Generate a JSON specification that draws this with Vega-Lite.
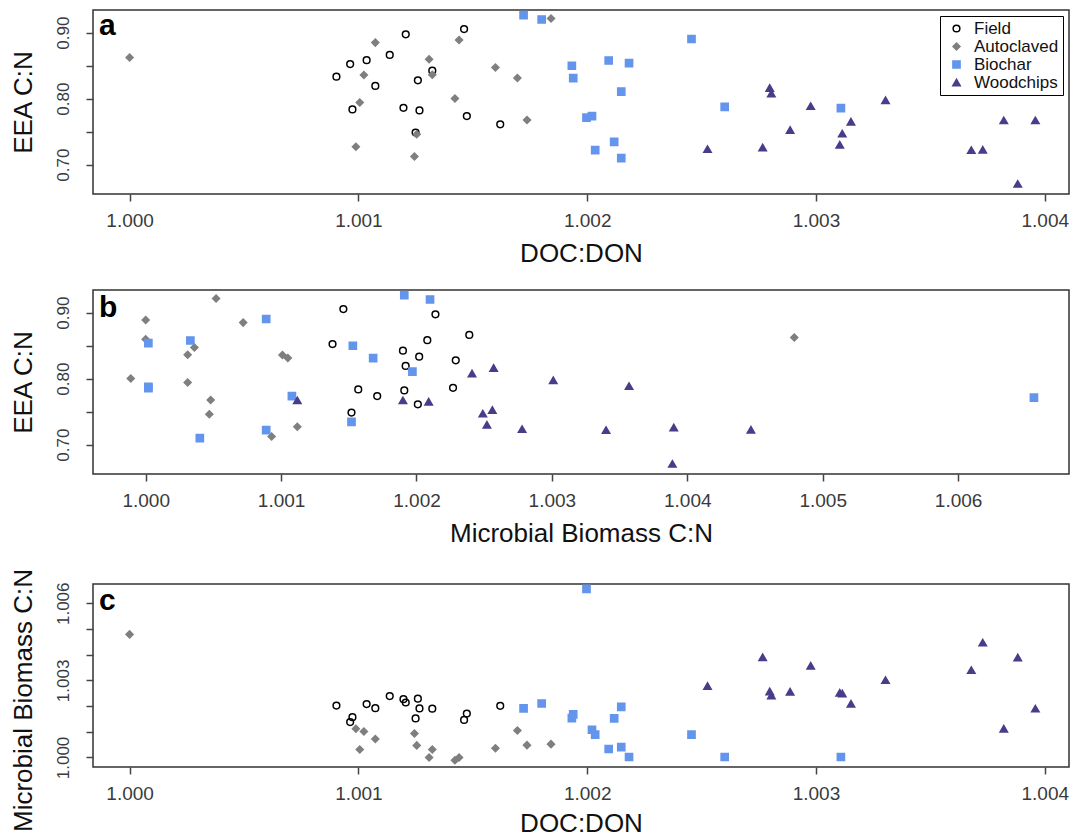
{
  "$schema": "https://vega.github.io/schema/vega-lite/v6.json",
  "padding": {"left": 9, "top": 7, "right": 5, "bottom": 0},
  "background": "white",
  "config": {
    "font": "Liberation Sans",
    "view": {"stroke": "#333333", "strokeWidth": 1.5},
    "axis": {
      "grid": false,
      "domain": false,
      "ticks": true,
      "tickSize": 7,
      "tickColor": "#444444",
      "tickWidth": 1.5,
      "labelFont": "Liberation Sans",
      "labelColor": "#3a3a3a",
      "labelOverlap": false,
      "labelFlush": false,
      "titleFont": "Liberation Sans",
      "titleFontSize": 26,
      "titleFontWeight": "normal",
      "titleColor": "#111111"
    },
    "axisX": {"labelPadding": 10, "titlePadding": 10, "labelFontSize": 19},
    "axisY": {"labelAngle": -90, "labelPadding": 14, "titlePadding": 18, "labelFontSize": 17}
  },
  "datasets": {
    "pts": [
      {"g": "Field", "doc": 1.000904, "eea": 0.8333, "mb": 1.00202},
      {"g": "Field", "doc": 1.000964, "eea": 0.8524, "mb": 1.00138},
      {"g": "Field", "doc": 1.000974, "eea": 0.7837, "mb": 1.00157},
      {"g": "Field", "doc": 1.001036, "eea": 0.8584, "mb": 1.00208},
      {"g": "Field", "doc": 1.001074, "eea": 0.8193, "mb": 1.00192},
      {"g": "Field", "doc": 1.001137, "eea": 0.8664, "mb": 1.00239},
      {"g": "Field", "doc": 1.001197, "eea": 0.7862, "mb": 1.00227},
      {"g": "Field", "doc": 1.001207, "eea": 0.8975, "mb": 1.00214},
      {"g": "Field", "doc": 1.00126, "eea": 0.8278, "mb": 1.00229},
      {"g": "Field", "doc": 1.001267, "eea": 0.7822, "mb": 1.00191},
      {"g": "Field", "doc": 1.00125, "eea": 0.7486, "mb": 1.00152},
      {"g": "Field", "doc": 1.001323, "eea": 0.8424, "mb": 1.0019},
      {"g": "Field", "doc": 1.001462, "eea": 0.9055, "mb": 1.00146},
      {"g": "Field", "doc": 1.001474, "eea": 0.7737, "mb": 1.00171},
      {"g": "Field", "doc": 1.00162, "eea": 0.7612, "mb": 1.00201},
      {"g": "Autoclaved", "doc": 1.0, "eea": 0.8624, "mb": 1.00479},
      {"g": "Autoclaved", "doc": 1.001074, "eea": 0.885, "mb": 1.00072},
      {"g": "Autoclaved", "doc": 1.001024, "eea": 0.8358, "mb": 1.00101},
      {"g": "Autoclaved", "doc": 1.001006, "eea": 0.7942, "mb": 1.00031},
      {"g": "Autoclaved", "doc": 1.000989, "eea": 0.7271, "mb": 1.00112},
      {"g": "Autoclaved", "doc": 1.001309, "eea": 0.8599, "mb": 1.0},
      {"g": "Autoclaved", "doc": 1.001323, "eea": 0.8363, "mb": 1.00031},
      {"g": "Autoclaved", "doc": 1.001255, "eea": 0.7461, "mb": 1.00047},
      {"g": "Autoclaved", "doc": 1.001245, "eea": 0.7125, "mb": 1.00093},
      {"g": "Autoclaved", "doc": 1.00144, "eea": 0.889, "mb": 1.0},
      {"g": "Autoclaved", "doc": 1.001422, "eea": 0.8003, "mb": 0.99989},
      {"g": "Autoclaved", "doc": 1.001599, "eea": 0.8474, "mb": 1.00036},
      {"g": "Autoclaved", "doc": 1.001695, "eea": 0.8313, "mb": 1.00105},
      {"g": "Autoclaved", "doc": 1.001737, "eea": 0.7677, "mb": 1.00048},
      {"g": "Autoclaved", "doc": 1.001842, "eea": 0.9216, "mb": 1.00052},
      {"g": "Biochar", "doc": 1.001722, "eea": 0.9266, "mb": 1.00191},
      {"g": "Biochar", "doc": 1.001801, "eea": 0.92, "mb": 1.0021},
      {"g": "Biochar", "doc": 1.002456, "eea": 0.8905, "mb": 1.00089},
      {"g": "Biochar", "doc": 1.001933, "eea": 0.8499, "mb": 1.00153},
      {"g": "Biochar", "doc": 1.001939, "eea": 0.8313, "mb": 1.00168},
      {"g": "Biochar", "doc": 1.002094, "eea": 0.8579, "mb": 1.00033},
      {"g": "Biochar", "doc": 1.002183, "eea": 0.8539, "mb": 1.00002},
      {"g": "Biochar", "doc": 1.002149, "eea": 0.8108, "mb": 1.00197},
      {"g": "Biochar", "doc": 1.002601, "eea": 0.7877, "mb": 1.00002},
      {"g": "Biochar", "doc": 1.003109, "eea": 0.7857, "mb": 1.00002},
      {"g": "Biochar", "doc": 1.001997, "eea": 0.7712, "mb": 1.00656},
      {"g": "Biochar", "doc": 1.002021, "eea": 0.7737, "mb": 1.00108},
      {"g": "Biochar", "doc": 1.002118, "eea": 0.7346, "mb": 1.00152},
      {"g": "Biochar", "doc": 1.002035, "eea": 0.7221, "mb": 1.00089},
      {"g": "Biochar", "doc": 1.002149, "eea": 0.71, "mb": 1.0004},
      {"g": "Woodchips", "doc": 1.002798, "eea": 0.8163, "mb": 1.00257},
      {"g": "Woodchips", "doc": 1.002805, "eea": 0.8078, "mb": 1.00241},
      {"g": "Woodchips", "doc": 1.002977, "eea": 0.7887, "mb": 1.00357},
      {"g": "Woodchips", "doc": 1.003304, "eea": 0.7977, "mb": 1.00301},
      {"g": "Woodchips", "doc": 1.003153, "eea": 0.7652, "mb": 1.00209},
      {"g": "Woodchips", "doc": 1.002887, "eea": 0.7526, "mb": 1.00256},
      {"g": "Woodchips", "doc": 1.003115, "eea": 0.7471, "mb": 1.00249},
      {"g": "Woodchips", "doc": 1.003104, "eea": 0.7301, "mb": 1.00252},
      {"g": "Woodchips", "doc": 1.002526, "eea": 0.7236, "mb": 1.00278},
      {"g": "Woodchips", "doc": 1.002767, "eea": 0.7261, "mb": 1.0039},
      {"g": "Woodchips", "doc": 1.003679, "eea": 0.7221, "mb": 1.0034},
      {"g": "Woodchips", "doc": 1.003729, "eea": 0.7226, "mb": 1.00447},
      {"g": "Woodchips", "doc": 1.003821, "eea": 0.7672, "mb": 1.00112},
      {"g": "Woodchips", "doc": 1.003959, "eea": 0.7672, "mb": 1.0019},
      {"g": "Woodchips", "doc": 1.003882, "eea": 0.6709, "mb": 1.00389}
    ]
  },
  "bounds": "full",
  "spacing": 20,
  "resolve": {"legend": {"fill": "independent", "stroke": "independent", "shape": "independent", "size": "independent"}},
  "vconcat": [
    {
      "width": 976,
      "height": 184,
      "layer": [
        {
          "data": {"name": "pts"},
          "mark": {"type": "point", "filled": true, "strokeWidth": 1.5, "opacity": 1},
          "encoding": {
            "x": {"field": "doc", "type": "quantitative", "title": "DOC:DON",
                  "scale": {"domain": [0.99984, 1.004106], "nice": false, "zero": false},
                  "axis": {"values": [1.0, 1.001, 1.002, 1.003, 1.004], "tickCount": 10, "format": ".3f", "labelOverlap": false}},
            "y": {"field": "eea", "type": "quantitative", "title": "EEA C:N",
                  "scale": {"domain": [0.6556, 0.9344], "nice": false, "zero": false},
                  "axis": {"values": [0.7, 0.75, 0.8, 0.85, 0.9], "tickCount": 10, "labelOverlap": false, "labelExpr": "indexof(['0.70', '0.80', '0.90'], format(datum.value, '.2f')) >= 0 ? format(datum.value, '.2f') : ''"}},
            "fill": {"field": "g", "type": "nominal", "title": null,
                     "scale": {"domain": ["Field", "Autoclaved", "Biochar", "Woodchips"], "range": ["transparent", "#7f7f7f", "#6495ed", "#483d8b"]},
                     "legend": {"orient": "top-right", "offset": 6, "strokeColor": "#000000", "fillColor": "white", "padding": 4, "labelFontSize": 17, "labelFont": "Liberation Sans", "labelColor": "#111111", "rowPadding": 0, "labelOffset": 9, "symbolOffset": 4, "symbolStrokeWidth": 1.5}},
            "stroke": {"field": "g", "type": "nominal", "title": null,
                       "scale": {"domain": ["Field", "Autoclaved", "Biochar", "Woodchips"], "range": ["#000000", "#7f7f7f", "#6495ed", "#483d8b"]}},
            "shape": {"field": "g", "type": "nominal", "title": null,
                      "scale": {"domain": ["Field", "Autoclaved", "Biochar", "Woodchips"], "range": ["circle", "diamond", "square", "triangle-up"]}},
            "size": {"field": "g", "type": "nominal", "title": null,
                     "scale": {"domain": ["Field", "Autoclaved", "Biochar", "Woodchips"], "range": [45, 55, 50, 85]}}
          }
        },
        {
          "data": {"values": [{}]},
          "mark": {"type": "text", "text": "a", "font": "Liberation Sans", "fontSize": 30, "fontWeight": "bold", "align": "left", "baseline": "alphabetic", "color": "#000000"},
          "encoding": {
            "x": {"datum": 0.999866, "type": "quantitative"},
            "y": {"datum": 0.8965, "type": "quantitative"}
          }
        }
      ]
    },
    {
      "width": 976,
      "height": 184,
      "layer": [
        {
          "data": {"name": "pts"},
          "mark": {"type": "point", "filled": true, "strokeWidth": 1.5, "opacity": 1},
          "encoding": {
            "x": {"field": "mb", "type": "quantitative", "title": "Microbial Biomass C:N",
                  "scale": {"domain": [0.999611, 1.006819], "nice": false, "zero": false},
                  "axis": {"values": [1.0, 1.001, 1.002, 1.003, 1.004, 1.005, 1.006], "tickCount": 10, "format": ".3f", "labelOverlap": false}},
            "y": {"field": "eea", "type": "quantitative", "title": "EEA C:N",
                  "scale": {"domain": [0.6556, 0.9344], "nice": false, "zero": false},
                  "axis": {"values": [0.7, 0.75, 0.8, 0.85, 0.9], "tickCount": 10, "labelOverlap": false, "labelExpr": "indexof(['0.70', '0.80', '0.90'], format(datum.value, '.2f')) >= 0 ? format(datum.value, '.2f') : ''"}},
            "fill": {"field": "g", "type": "nominal", "legend": null,
                     "scale": {"domain": ["Field", "Autoclaved", "Biochar", "Woodchips"], "range": ["transparent", "#7f7f7f", "#6495ed", "#483d8b"]}},
            "stroke": {"field": "g", "type": "nominal", "legend": null,
                       "scale": {"domain": ["Field", "Autoclaved", "Biochar", "Woodchips"], "range": ["#000000", "#7f7f7f", "#6495ed", "#483d8b"]}},
            "shape": {"field": "g", "type": "nominal", "legend": null,
                      "scale": {"domain": ["Field", "Autoclaved", "Biochar", "Woodchips"], "range": ["circle", "diamond", "square", "triangle-up"]}},
            "size": {"field": "g", "type": "nominal", "legend": null,
                     "scale": {"domain": ["Field", "Autoclaved", "Biochar", "Woodchips"], "range": [45, 55, 50, 85]}}
          }
        },
        {
          "data": {"values": [{}]},
          "mark": {"type": "text", "text": "b", "font": "Liberation Sans", "fontSize": 30, "fontWeight": "bold", "align": "left", "baseline": "alphabetic", "color": "#000000"},
          "encoding": {
            "x": {"datum": 0.999655, "type": "quantitative"},
            "y": {"datum": 0.8935, "type": "quantitative"}
          }
        }
      ]
    },
    {
      "width": 976,
      "height": 183,
      "layer": [
        {
          "data": {"name": "pts"},
          "mark": {"type": "point", "filled": true, "strokeWidth": 1.5, "opacity": 1},
          "encoding": {
            "x": {"field": "doc", "type": "quantitative", "title": "DOC:DON",
                  "scale": {"domain": [0.99984, 1.004106], "nice": false, "zero": false},
                  "axis": {"values": [1.0, 1.001, 1.002, 1.003, 1.004], "tickCount": 10, "format": ".3f", "titlePadding": 7, "labelOverlap": false}},
            "y": {"field": "mb", "type": "quantitative", "title": "Microbial Biomass C:N",
                  "scale": {"domain": [0.99963, 1.00675], "nice": false, "zero": false},
                  "axis": {"values": [1.0, 1.001, 1.002, 1.003, 1.004, 1.005, 1.006], "tickCount": 10, "titleY": 116, "labelOverlap": false, "labelExpr": "indexof(['1.000', '1.003', '1.006'], format(datum.value, '.3f')) >= 0 ? format(datum.value, '.3f') : ''"}},
            "fill": {"field": "g", "type": "nominal", "legend": null,
                     "scale": {"domain": ["Field", "Autoclaved", "Biochar", "Woodchips"], "range": ["transparent", "#7f7f7f", "#6495ed", "#483d8b"]}},
            "stroke": {"field": "g", "type": "nominal", "legend": null,
                       "scale": {"domain": ["Field", "Autoclaved", "Biochar", "Woodchips"], "range": ["#000000", "#7f7f7f", "#6495ed", "#483d8b"]}},
            "shape": {"field": "g", "type": "nominal", "legend": null,
                      "scale": {"domain": ["Field", "Autoclaved", "Biochar", "Woodchips"], "range": ["circle", "diamond", "square", "triangle-up"]}},
            "size": {"field": "g", "type": "nominal", "legend": null,
                     "scale": {"domain": ["Field", "Autoclaved", "Biochar", "Woodchips"], "range": [45, 55, 50, 85]}}
          }
        },
        {
          "data": {"values": [{}]},
          "mark": {"type": "text", "text": "c", "font": "Liberation Sans", "fontSize": 30, "fontWeight": "bold", "align": "left", "baseline": "alphabetic", "color": "#000000"},
          "encoding": {
            "x": {"datum": 0.999866, "type": "quantitative"},
            "y": {"datum": 1.005738, "type": "quantitative"}
          }
        }
      ]
    }
  ]
}
